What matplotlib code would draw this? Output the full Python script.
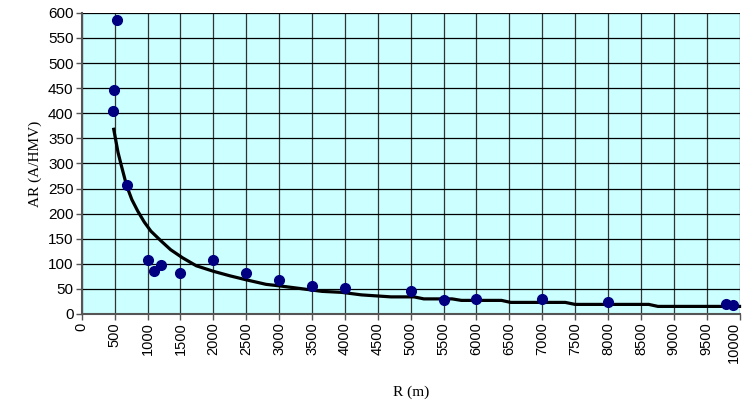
import matplotlib
matplotlib.use("Agg")
import matplotlib.pyplot as plt
from matplotlib.transforms import ScaledTranslation

# measured points
r_obs = [470, 490, 530, 680, 1000, 1100, 1200, 1500, 2000, 2500, 3000,
         3500, 4000, 5000, 5500, 6000, 7000, 8000, 9800, 9900]
ar_obs = [405, 447, 585, 257, 107, 85, 98, 82, 107, 82, 68,
          55, 52, 45, 27, 30, 30, 23, 20, 17]

# trend line
r_fit = [485, 550, 600, 680, 760, 850, 950, 1050, 1200, 1350, 1530, 1740,
         2000, 2250, 2500, 2800, 3000, 3300, 3650, 3950, 4250, 4700, 5050,
         5200, 5630, 5770, 6380, 6520, 7350, 7500, 8620, 8760, 10000]
ar_fit = [368, 322, 296, 256, 228, 205, 183, 165, 146, 128, 112, 96,
          85, 76, 68, 59, 56, 51, 45, 43, 38, 34, 34,
          30, 30, 27, 27, 23, 23, 19, 19, 15, 15]

fig = plt.figure(figsize=(7.44, 4.03), dpi=100)
ax = fig.add_axes([0.110, 0.221, 0.884, 0.747])
ax.set_facecolor("#ccffff")

ax.set_xlim(0, 10000)
ax.set_ylim(0, 600)
ax.set_xticks(range(0, 10001, 500))
ax.set_yticks(range(0, 601, 50))
ax.xaxis.grid(True, color="#333333", lw=0.9)
ax.yaxis.grid(True, color="black", lw=0.9)
ax.set_axisbelow(True)

for s in ("top", "right"):
    ax.spines[s].set_visible(False)
for s in ("left", "bottom"):
    ax.spines[s].set_color("#555555")
    ax.spines[s].set_linewidth(1.5)

ax.tick_params(axis="both", length=4, width=1, color="#555555", pad=2)
ax.tick_params(axis="y", labelsize=11)
ax.tick_params(axis="x", labelsize=10.5)
for lab in ax.get_xticklabels() + ax.get_yticklabels():
    lab.set_family("Liberation Sans")
plt.setp(ax.get_xticklabels(), rotation=90)
# last label sits against the canvas edge, nudge it in
last = ax.get_xticklabels()[-1]
last.set_transform(last.get_transform() + ScaledTranslation(-4 / 72, 0, fig.dpi_scale_trans))

ax.plot(r_fit, ar_fit, color="black", lw=2.3, zorder=3, clip_on=False)
ax.plot(r_obs, ar_obs, "o", color="#000080", ms=7, zorder=4, clip_on=False)

ax.set_xlabel("R (m)", family="Liberation Serif", fontsize=11, labelpad=16)
ax.set_ylabel("AR (A/HMV)", family="Liberation Serif", fontsize=11, labelpad=4)

fig.savefig("out.png", dpi=100)
